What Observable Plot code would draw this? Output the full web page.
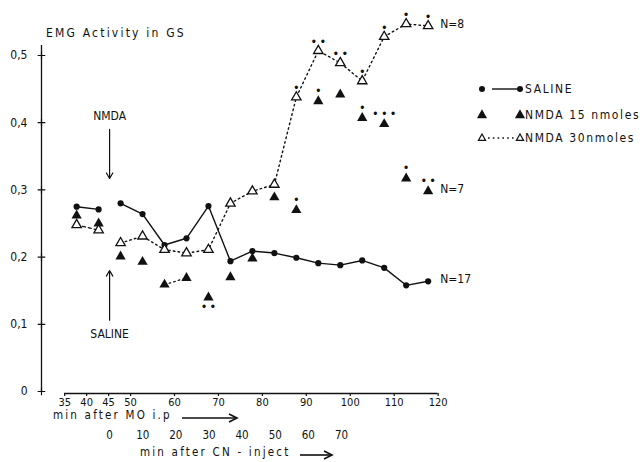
<!DOCTYPE html>
<html><head><meta charset="utf-8">
<script src="https://cdn.jsdelivr.net/npm/d3@7"></script>
<script src="https://cdn.jsdelivr.net/npm/@observablehq/plot@0.6"></script>
<style>
html,body{margin:0;padding:0;background:#fff;}
#wrap{position:relative;width:643px;height:462px;overflow:hidden;font-family:"DejaVu Sans Condensed","DejaVu Sans",sans-serif;color:#111;}
#wrap > svg{display:block;}
.lbl{position:absolute;font-size:12px;letter-spacing:2.2px;white-space:nowrap;line-height:12px;}
.lbl svg{display:inline-block;vertical-align:middle;}
</style></head><body><div id="wrap"></div>
<script>
// ---- data ----
const times   = [40,45,50,55,60,65,70,75,80,85,90,95,100,105,110,115,120]; // min after MO i.p.
const saline  = [0.275,0.271,0.280,0.264,0.218,0.228,0.276,0.194,0.209,0.206,0.199,0.191,0.188,0.195,0.184,0.158,0.164];
const nmda15  = [0.262,0.250,0.201,0.193,0.159,0.169,0.140,0.170,0.198,0.289,0.270,0.432,0.442,0.407,0.398,0.317,0.298];
const nmda30  = [0.248,0.240,0.221,0.231,0.211,0.206,0.211,0.280,0.298,0.308,0.438,0.507,0.489,0.462,0.528,0.547,0.544];
// significance dots: positive = above the symbol, negative = below
const nmda15Sig = [0,0,0,0,0,0,-2,0,0,0,1,1,0,1,3,1,2];
const nmda30Sig = [0,0,0,0,0,0,0,0,0,0,1,2,2,1,1,1,1];
const moTicks = [35,40,45,50,60,70,80,90,100,110,120];
const cnTicks = [0,10,20,30,40,50,60,70];
const yTicks  = [0,0.1,0.2,0.3,0.4,0.5];
const injectionTime = 47.5;   // CN injection (= 0 min after CN-inject)
const cnCompress = 0.754;     // the CN-time row is drawn compressed relative to the MO-time row
const nLabels = [
  {key:"n30", text:"N=8"},
  {key:"n15", text:"N=7"},
  {key:"saline", text:"N=17"}
];
const annotations = [
  {text:"NMDA",   y:0.409, y1:0.390, y2:0.317},
  {text:"SALINE", y:0.086, y1:0.106, y2:0.180}
];
const xStart = 32, xEnd = 126, yAxisTop = 0.515;

// ---- table built from the arrays ----
const rows = times.map((t,i)=>({
  t, saline: saline[i], n15: nmda15[i], n30: nmda30[i],
  s15: nmda15Sig[i], s30: nmda30Sig[i],
  phase: t < injectionTime ? "pre" : "post"
}));
const last = rows[rows.length-1];
const nRows = nLabels.map(d=>({t:last.t, v:last[d.key], text:d.text}));
const ink = "#111";
const fam = '"DejaVu Sans Condensed","DejaVu Sans",sans-serif';
const fmt = d => d === 0 ? "0" : d.toFixed(1).replace(".", ",");
const dots = n => Array(n).fill("•").join("\u2009");

const main = Plot.plot({
  width: 643, height: 462,
  marginLeft: 41, marginRight: 189, marginTop: 55, marginBottom: 71,
  x: {domain: [xStart, xEnd]},
  y: {domain: [0, 0.5]},
  style: {fontFamily: fam, fontSize: "12px", color: ink, background: "white", overflow: "visible"},
  marks: [
    // y axis
    Plot.ruleX([xStart], {y1: 0, y2: yAxisTop, stroke: ink, strokeWidth: 1.3}),
    Plot.dot(yTicks, {x: xStart, y: d=>d, symbol: "plus", r: 2.6, stroke: ink, strokeWidth: 1.2}),
    Plot.axisY(yTicks, {tickSize: 0, tickPadding: 14, tickFormat: fmt, label: null, fontSize: 12}),
    // x axis (min after MO i.p.)
    Plot.ruleY([0], {x1: moTicks[0], x2: moTicks[moTicks.length-1], dx: 10, dy: 2, stroke: ink, strokeWidth: 1.3}),
    Plot.axisX(moTicks, {tickSize: 3, tickPadding: 2, dx: 10, dy: 2, label: null, fontSize: 11, strokeWidth: 1.2}),
    // second time row (min after CN-inject)
    Plot.text(cnTicks, {x: d => injectionTime + d * cnCompress, frameAnchor: "bottom", lineAnchor: "middle", dy: 44, fontSize: 11.5, fill: ink}),
    // lines
    Plot.line(rows, {x: "t", y: "saline", z: "phase", stroke: ink, strokeWidth: 1.4}),
    Plot.line(rows.filter(d=>d.phase==="pre"), {x: "t", y: "n30", stroke: ink, strokeWidth: 1.3, strokeDasharray: "3,3"}),
    Plot.line(rows.filter(d=>d.phase==="post"), {x: "t", y: "n30", stroke: ink, strokeWidth: 1.4, strokeDasharray: "1.6,3.2"}),
    Plot.line(rows.filter(d=>d.t>=60 && d.t<=65), {x: "t", y: "n15", stroke: ink, strokeWidth: 1.3, strokeDasharray: "1.6,3.2"}),
    // points
    Plot.dot(rows, {x: "t", y: "saline", r: 3.1, fill: ink}),
    Plot.dot(rows, {x: "t", y: "n15", symbol: "triangle", r: 3.8, fill: ink}),
    Plot.dot(rows, {x: "t", y: "n30", symbol: "triangle", r: 3.5, fill: "white", stroke: ink, strokeWidth: 1.3}),
    // significance dots
    Plot.text(rows.filter(d=>d.s30>0), {x: "t", y: "n30", text: d=>dots(d.s30), dy: -9, fontSize: 12.5, fill: ink}),
    Plot.text(rows.filter(d=>d.s15>0), {x: "t", y: "n15", text: d=>dots(d.s15), dy: -10, fontSize: 12.5, fill: ink}),
    Plot.text(rows.filter(d=>d.s15<0), {x: "t", y: "n15", text: d=>dots(-d.s15), dy: 10, fontSize: 12.5, fill: ink}),
    // injection annotations
    Plot.arrow(annotations, {x: injectionTime, y1: "y1", y2: "y2", stroke: ink, strokeWidth: 1.2, headLength: 8}),
    Plot.text(annotations, {x: injectionTime, y: "y", text: "text", fontSize: 12, letterSpacing: "2.2px", fill: ink}),
    // N labels
    Plot.text(nRows, {x: "t", y: "v", text: "text", dx: 12, dy: -2, textAnchor: "start", fontSize: 12, letterSpacing: "1px", fill: ink})
  ]
});

const wrap = document.getElementById("wrap");
wrap.appendChild(main);

function arrowSvg(len){
  return `<svg width="${len+2}" height="10" style="margin-left:10px;overflow:visible"><line x1="0" y1="7" x2="${len}" y2="7" stroke="${ink}" stroke-width="1.6"/><path d="M${len-8},3 L${len},7 L${len-8},11" fill="none" stroke="${ink}" stroke-width="1.6"/></svg>`;
}
function addLabel(html, left, top, size){
  const d = document.createElement("div");
  d.className = "lbl"; d.style.left = left+"px"; d.style.top = top+"px";
  if (size) { d.style.fontSize = size+"px"; d.style.lineHeight = size+"px"; }
  d.innerHTML = html; wrap.appendChild(d);
}
addLabel("EMG Activity in GS", 46, 27);
addLabel("min after MO i.p" + arrowSvg(55), 53, 410, 11.5);
addLabel("min after CN - inject" + arrowSvg(32), 140, 447, 11.5);

// legend
const legend = document.createElementNS("http://www.w3.org/2000/svg","svg");
legend.setAttribute("width", 173); legend.setAttribute("height", 80);
legend.style.position = "absolute"; legend.style.left = "470px"; legend.style.top = "75px";
legend.style.overflow = "visible";
const tri = (x,y,s,fill)=>`<path d="M${x},${y-s} L${x+s*0.9},${y+s*0.6} L${x-s*0.9},${y+s*0.6} Z" fill="${fill}" stroke="${ink}" stroke-width="1.2"/>`;
const txt = (x,y,t)=>`<text x="${x}" y="${y}" dy="0.35em" font-family='${fam}' font-size="12" letter-spacing="1.6" fill="${ink}">${t}</text>`;
legend.innerHTML =
  `<circle cx="12" cy="14" r="3" fill="${ink}"/>` +
  `<line x1="22" y1="14" x2="50" y2="14" stroke="${ink}" stroke-width="1.4"/>` +
  `<circle cx="50" cy="14" r="3" fill="${ink}"/>` + txt(55,14,"SALINE") +
  tri(12,40,4.5,ink) + tri(50,40,4.5,ink) + txt(55,40,"NMDA 15 nmoles") +
  tri(12,63,4,"white") +
  `<line x1="18" y1="63" x2="46" y2="63" stroke="${ink}" stroke-width="1.4" stroke-dasharray="1.6,3.2"/>` +
  tri(50,63,4,"white") + txt(55,63,"NMDA 30nmoles");
wrap.appendChild(legend);
</script></body></html>
